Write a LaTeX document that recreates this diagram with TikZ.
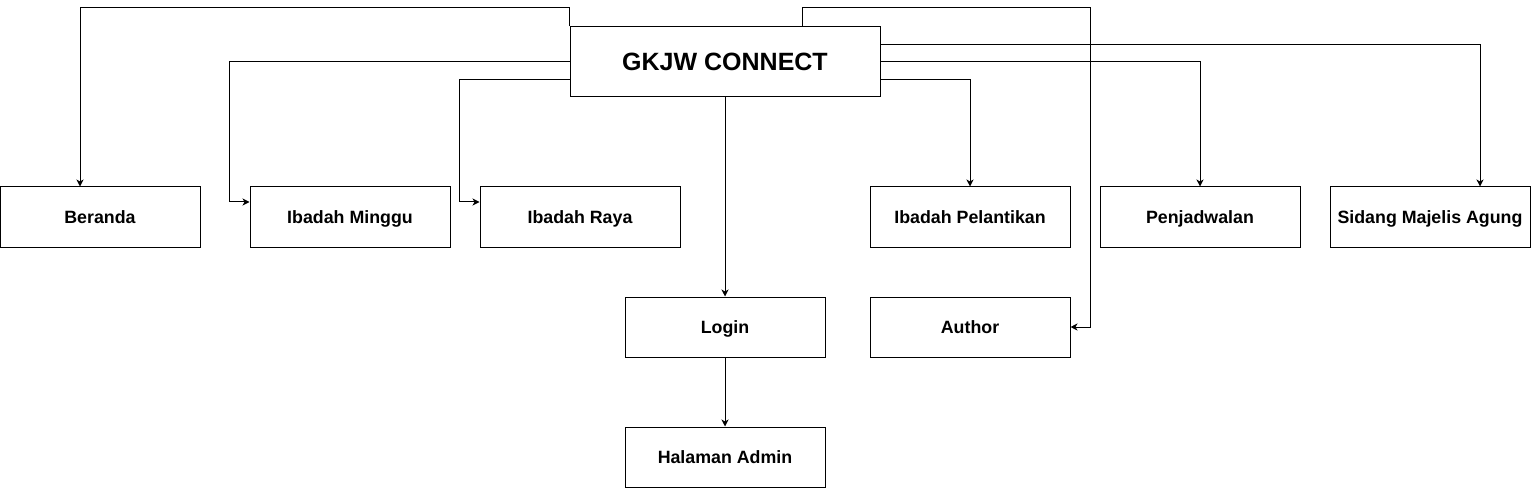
\documentclass[tikz,border=0pt]{standalone}
\usepackage{fontspec}
\setmainfont{Liberation Sans}
\usetikzlibrary{arrows.meta}
\begin{document}
\begin{tikzpicture}[x=1pt,y=-1pt,line width=1pt,
  box/.style={draw,minimum width=200pt,minimum height=60pt,inner sep=0pt,text height=15.5pt,text depth=3pt,font=\bfseries\fontsize{17.8}{21}\selectfont},
  arr/.style={-{Stealth[length=7pt,width=7pt,inset=2pt]}}]
\useasboundingbox (0,0) rectangle (1531,489);
\node[box,minimum width=310pt,minimum height=70pt,text height=21pt,text depth=4pt,font=\bfseries\fontsize{25}{30}\selectfont] (main) at (725,62) {GKJW CONNECT};
\node[box] (beranda) at (100,217) {Beranda};
\node[box] (minggu) at (350,217) {Ibadah Minggu};
\node[box] (raya) at (580,217) {Ibadah Raya};
\node[box] (pelantikan) at (970,217) {Ibadah Pelantikan};
\node[box] (jadwal) at (1200,217) {Penjadwalan};
\node[box] (sidang) at (1430,217) {Sidang Majelis Agung};
\node[box] (login) at (725,327) {Login};
\node[box] (author) at (970,327) {Author};
\node[box] (admin) at (725,457) {Halaman Admin};
\draw[arr] (main.north west) -- ++(0,-19) -| ([xshift=-20pt]beranda.north);
\draw[arr] (main.west) -- ++(-340,0) |- ([yshift=15pt]minggu.west);
\draw[arr] ([yshift=-18pt]main.west) -- ++(-110,0) |- ([yshift=15pt]raya.west);
\draw[arr] (main.south) -- (login.north);
\draw[arr] ([yshift=-18pt]main.east) -| (pelantikan.north);
\draw[arr] (main.east) -| (jadwal.north);
\draw[arr] ([yshift=17pt]main.east) -| ([xshift=50pt]sidang.north);
\draw[arr] ([xshift=77pt]main.north) -- ++(0,-19) -| ([xshift=20pt]author.east) -- (author.east);
\draw[arr] (login.south) -- (admin.north);
\end{tikzpicture}
\end{document}
